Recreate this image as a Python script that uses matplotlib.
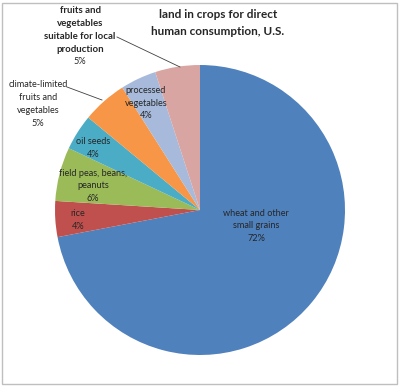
import matplotlib
matplotlib.use("Agg")
import matplotlib.pyplot as plt
from matplotlib.patches import Rectangle

plt.rcParams['font.family'] = ['Lato', 'DejaVu Sans']

crops = ["wheat and other\nsmall grains", "rice", "field peas, beans,\npeanuts",
         "oil seeds", "climate-limited\nfruits and\nvegetables", "processed\nvegetables",
         "fruits and\nvegetables\nsuitable for local\nproduction"]
shares = [72, 4, 6, 4, 5, 4, 5]
colors = ["#4F81BD", "#C0504D", "#9BBB59", "#4BACC6", "#F79646", "#A7BADB", "#D9A5A3"]

# label anchor points in pixel coords (y measured from top)
label_pos = [(256, 226), (78, 220), (93, 186), (93, 148), (38, 104), (146, 103), (80, 30)]

H = 386
fig = plt.figure(figsize=(4.0, 3.86), dpi=100)
ax = fig.add_axes([0, 0, 1, 1])

ax.pie(shares, colors=colors, startangle=90, counterclock=False,
       center=(200, H - 210), radius=145, frame=True,
       wedgeprops=dict(linewidth=0))
ax.set_xlim(0, 400)
ax.set_ylim(0, H)
ax.axis('off')

for i, (name, val) in enumerate(zip(crops, shares)):
    x, y = label_pos[i]
    if i == len(crops) - 1:
        ax.text(x, H - y, name, ha='center', va='center', fontsize=6.9,
                fontweight='bold', color='#262626', linespacing=1.6)
        ax.text(x, H - 62, f"{val}%", ha='center', va='center', fontsize=6.6,
                color='#262626')
    else:
        ax.text(x, H - y, f"{name}\n{val}%", ha='center', va='center', fontsize=6.6,
                color='#262626', linespacing=1.55)

# leader lines
ax.plot([67, 102], [H - 87, H - 100], color='#404040', linewidth=0.6)
ax.plot([117, 180], [H - 37, H - 67], color='#404040', linewidth=0.6)

ax.text(218, H - 23, "land in crops for direct\nhuman consumption, U.S.",
        ha='center', va='center', fontsize=8.5, fontweight='bold',
        color='#262626', linespacing=1.6)

fig.patches.append(Rectangle((2 / 400, 2 / H), 395 / 400, 381 / H,
                             transform=fig.transFigure, fill=False,
                             edgecolor='#BFBFBF', linewidth=1))

fig.savefig("out.png", dpi=100)
